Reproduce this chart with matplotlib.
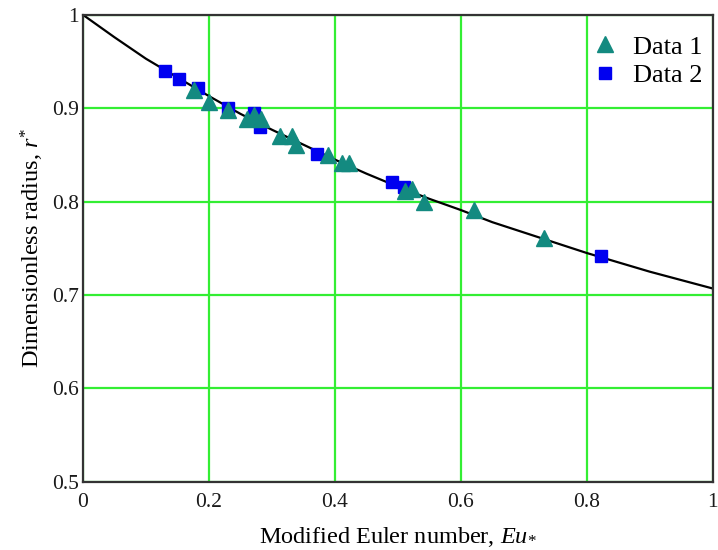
import matplotlib
matplotlib.use("Agg")
import matplotlib.pyplot as plt

# Data 1 (triangles)
eu_data1 = [0.176, 0.200, 0.231, 0.261, 0.271, 0.282, 0.313, 0.332, 0.339,
            0.389, 0.412, 0.422, 0.512, 0.523, 0.541, 0.621, 0.732]
r_data1 = [0.919, 0.907, 0.898, 0.889, 0.893, 0.889, 0.870, 0.870, 0.861,
           0.850, 0.841, 0.841, 0.811, 0.813, 0.800, 0.791, 0.761]

# Data 2 (squares)
eu_data2 = [0.131, 0.153, 0.183, 0.231, 0.271, 0.281, 0.371, 0.491, 0.510, 0.822]
r_data2 = [0.940, 0.931, 0.922, 0.900, 0.895, 0.880, 0.851, 0.821, 0.816, 0.742]

# model curve
eu_curve = [0.0, 0.05, 0.1, 0.15, 0.2, 0.25, 0.3, 0.35, 0.4, 0.45, 0.5,
            0.55, 0.6, 0.65, 0.7, 0.75, 0.8, 0.85, 0.9, 0.95, 1.0]
r_curve = [1.000, 0.976, 0.953, 0.933, 0.913, 0.894, 0.877, 0.861, 0.845,
           0.830, 0.816, 0.803, 0.791, 0.778, 0.767, 0.756, 0.745, 0.735,
           0.725, 0.716, 0.707]

xticks = [0, 0.2, 0.4, 0.6, 0.8, 1]
xtick_labels = ["0", "0.2", "0.4", "0.6", "0.8", "1"]
yticks = [0.5, 0.6, 0.7, 0.8, 0.9, 1]
ytick_labels = ["0.5", "0.6", "0.7", "0.8", "0.9", "1"]

plt.rcParams["font.family"] = ["Liberation Serif", "DejaVu Serif"]
plt.rcParams["mathtext.fontset"] = "custom"
plt.rcParams["mathtext.rm"] = "Liberation Serif"
plt.rcParams["mathtext.it"] = "Liberation Serif:italic"

fig = plt.figure(figsize=(7.18, 5.5), dpi=100)
ax = fig.add_axes([0.1156, 0.124, 0.877, 0.849])

ax.grid(True, color="#33ee33", linewidth=1.6, zorder=0)
ax.set_axisbelow(True)

ax.plot(eu_curve, r_curve, color="black", linewidth=1.6, zorder=2)
ax.plot(eu_data1, r_data1, linestyle="none", marker="^", markersize=11.5,
        color="#138a80", label="Data 1", zorder=4)
ax.plot(eu_data2, r_data2, linestyle="none", marker="s", markersize=8.8,
        color="#0000f0", label="Data 2", zorder=3)

ax.set_xlim(0, 1)
ax.set_ylim(0.5, 1)
ax.set_xticks(xticks)
ax.set_xticklabels(xtick_labels)
ax.set_yticks(yticks)
ax.set_yticklabels(ytick_labels)
ax.tick_params(length=0, labelsize=15.5, colors="#1a1a1a")
ax.tick_params(axis="x", pad=8)
ax.tick_params(axis="y", pad=3)

for s in ax.spines.values():
    s.set_color("#333333")
    s.set_linewidth(1.6)

ax.set_xlabel(r"Modified Euler number, $Eu_{*}$", fontsize=17.5)
ax.set_ylabel(r"Dimensionless radius, $r^{*}$", fontsize=17.5)
ax.xaxis.set_label_coords(0.5, -0.092)
ax.yaxis.set_label_coords(-0.058, 0.5)

leg = ax.legend(loc="upper right", bbox_to_anchor=(1.0, 0.979), fontsize=19,
                frameon=False, handlelength=0.6, handletextpad=0.75,
                borderaxespad=0.0, labelspacing=0.2)

fig.savefig("out.png", dpi=100)
